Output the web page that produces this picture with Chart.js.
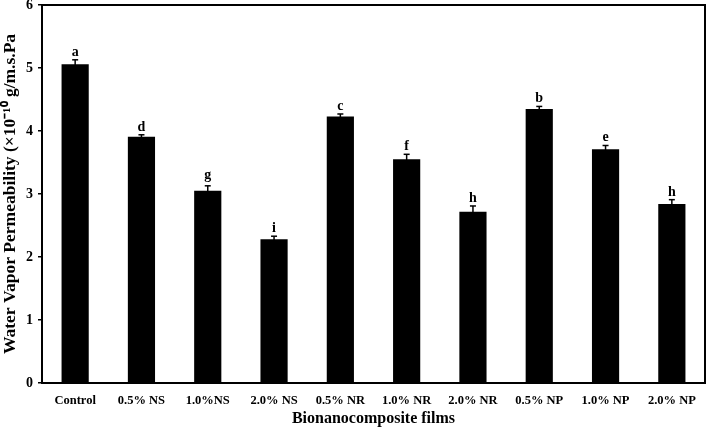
<!DOCTYPE html>
<html><head><meta charset="utf-8">
<script src="https://cdn.jsdelivr.net/npm/chart.js@4"></script>
<style>html,body{margin:0;padding:0;background:#fff}#wrap{width:709px;height:428px}</style>
</head><body><div id="wrap"><canvas id="c" width="709" height="428"></canvas></div>
<script>
const categories = ["Control","0.5% NS","1.0%NS","2.0% NS","0.5% NR","1.0% NR","2.0% NR","0.5% NP","1.0% NP","2.0% NP"];
const wvpValues = [5.06,3.91,3.05,2.28,4.23,3.55,2.72,4.35,3.71,2.84];
const wvpErrors = [0.07,0.03,0.08,0.05,0.04,0.08,0.09,0.04,0.06,0.07];
const groupLetters = ["a","d","g","i","c","f","h","b","e","h"];
const yTicks = [0,1,2,3,4,5,6];

const FONT = "'Liberation Serif','Times New Roman',serif";

const extras = {
  id:'extras',
  afterDatasetsDraw(chart){
    const ctx = chart.ctx, y = chart.scales.y;
    const meta = chart.getDatasetMeta(0);
    ctx.save();
    ctx.strokeStyle = '#000'; ctx.fillStyle = '#000';
    meta.data.forEach((bar,i)=>{
      const cx = bar.x;
      const top = y.getPixelForValue(wvpValues[i]+wvpErrors[i]);
      const bot = y.getPixelForValue(wvpValues[i]-wvpErrors[i]);
      ctx.lineWidth = 1.5;
      ctx.beginPath(); ctx.moveTo(cx, bot); ctx.lineTo(cx, top); ctx.stroke();
      ctx.beginPath(); ctx.moveTo(cx-3, top); ctx.lineTo(cx+3, top); ctx.stroke();
      ctx.font = "bold 14px " + FONT;
      ctx.textAlign = 'center'; ctx.textBaseline = 'alphabetic';
      const m = ctx.measureText(groupLetters[i]);
      const desc = Math.max(0, m.actualBoundingBoxDescent || 0);
      ctx.fillText(groupLetters[i], cx, top - 4 - desc);
    });
    const a = chart.chartArea;
    ctx.lineWidth = 2;
    ctx.strokeRect(a.left, a.top, a.right-a.left, a.bottom-a.top);
    ctx.restore();
  }
};

new Chart(document.getElementById('c'), {
  type:'bar',
  data:{ labels: categories, datasets:[{ data: wvpValues, backgroundColor:'#000', borderWidth:0, barPercentage:0.41, categoryPercentage:1.0 }]},
  options:{
    responsive:false, animation:false,
    layout:{ padding:{ top:5, right:4, left:0, bottom:0 } },
    plugins:{ legend:{display:false}, tooltip:{enabled:false} },
    scales:{
      x:{
        grid:{ display:false },
        border:{ display:false },
        ticks:{ color:'#000', font:{ family:FONT, size:12.5, weight:'bold' }, maxRotation:0, autoSkip:false, padding:2 },
        title:{ display:true, text:'Bionanocomposite films', color:'#000', font:{ family:FONT, size:16, weight:'bold' }, padding:{top:4,bottom:0} },
        afterFit(s){ s.height = 45; s.paddingLeft = 0; s.paddingRight = 0; }
      },
      y:{
        min:0, max:6,
        afterBuildTicks(s){ s.ticks = yTicks.map(v=>({value:v})); },
        grid:{ drawOnChartArea:false, drawTicks:true, tickLength:4, color:'#000', lineWidth:1.5 },
        border:{ display:false },
        ticks:{ color:'#000', font:{ family:FONT, size:14, weight:'bold' }, padding:5 },
        title:{ display:true, text:'Water Vapor Permeability (×10⁻¹⁰ g/m.s.Pa', color:'#000', font:{ family:FONT, size:17.5, weight:'bold' }, padding:{top:0,bottom:2} },
        afterFit(s){ s.width = 42; s.paddingTop = 0; s.paddingBottom = 0; }
      }
    }
  },
  plugins:[extras]
});
</script>
</body></html>
